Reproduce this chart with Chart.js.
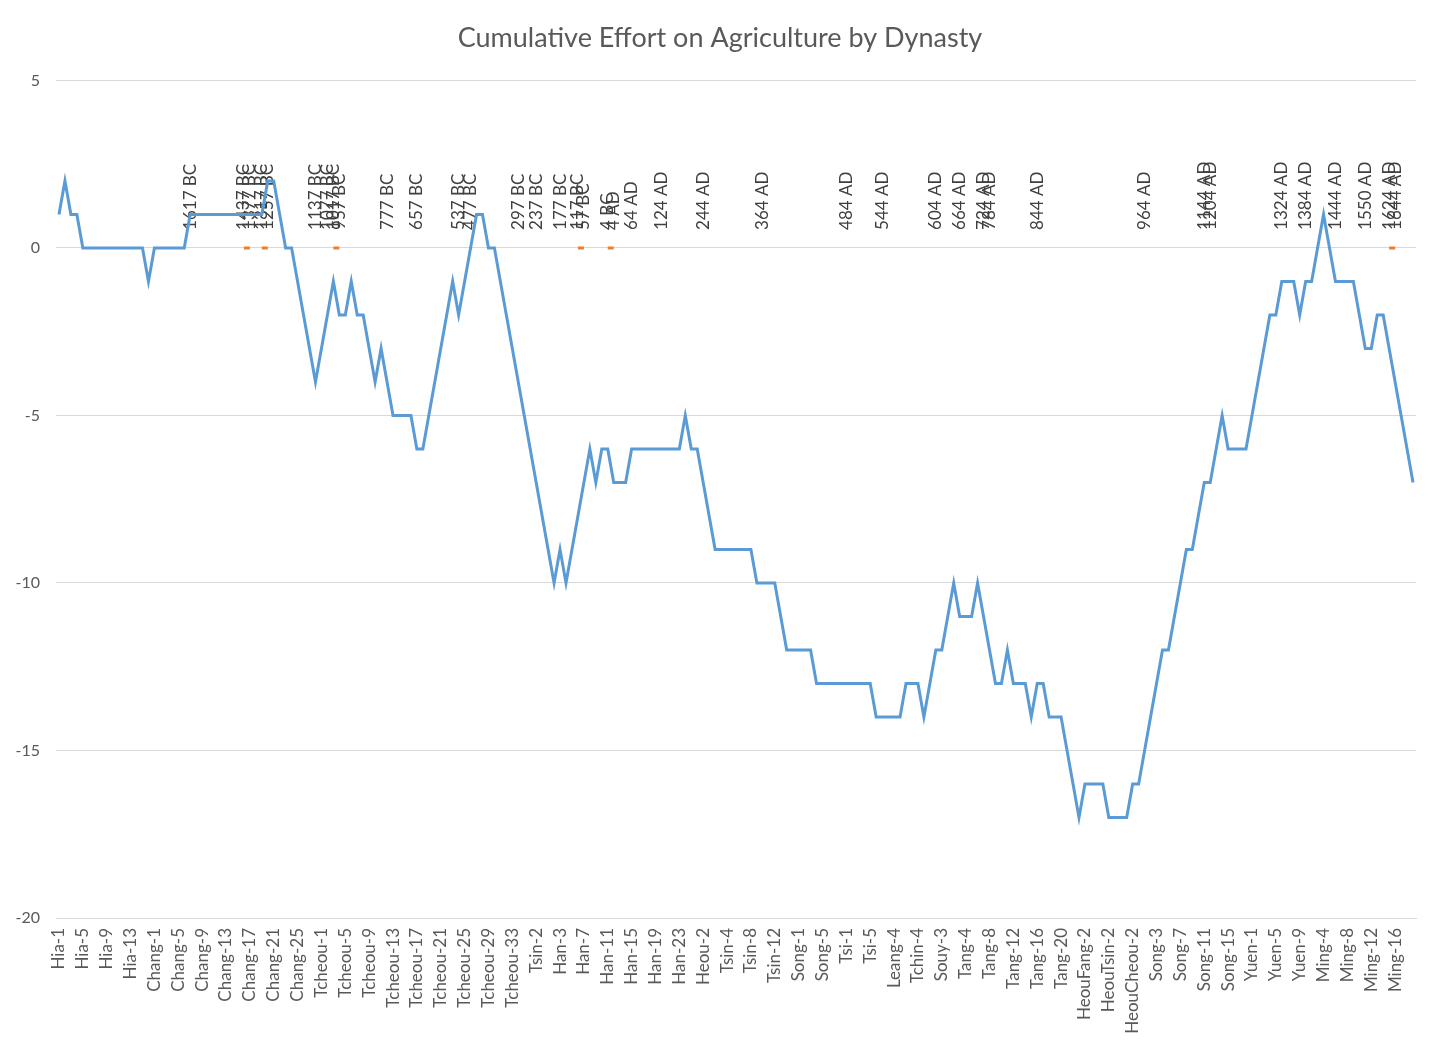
<!DOCTYPE html>
<html>
<head>
<meta charset="utf-8">
<title>Cumulative Effort on Agriculture by Dynasty</title>
<script src="https://cdn.jsdelivr.net/npm/chart.js@4.4.1/dist/chart.umd.min.js"></script>
<style>
    html, body { margin: 0; padding: 0; background: #ffffff; }
    #wrap { width: 1440px; height: 1053px; }
    canvas { display: block; }
</style>
</head>
<body>
<div id="wrap"><canvas id="chart" width="1440" height="1053"></canvas></div>
<script>
// Dynasties and how many reigns each one has (categories are "Name-n")
const dynasties = ['Hia', 'Chang', 'Tcheou', 'Tsin', 'Han', 'Heou', 'Tsin', 'Song', 'Tsi', 'Leang', 'Tchin', 'Souy', 'Tang',
    'HeouFang', 'HeouTang', 'HeouTsin', 'HeouHan', 'HeouCheou', 'Song', 'Yuen', 'Ming'];
const reignCounts = [16, 28, 35, 3, 25, 2, 15, 8, 5, 4, 5, 3, 22, 2, 2, 2, 2, 3, 18, 9, 19];

// Cumulative effort, one value per reign
const effort = [
    1, 2, 1, 1, 0, 0, 0, 0, 0, 0, 0, 0, 0, 0, 0, -1,
    0, 0, 0, 0, 0, 0, 1, 1, 1, 1, 1, 1, 1, 1, 1, 1, 1, 1, 1, 2, 2, 1, 0, 0, -1, -2, -3, -4,
    -3, -2, -1, -2, -2, -1, -2, -2, -3, -4, -3, -4, -5, -5, -5, -5, -6, -6, -5, -4, -3, -2, -1, -2, -1, 0, 1, 1, 0, 0, -1, -2, -3, -4, -5,
    -6, -7, -8,
    -9, -10, -9, -10, -9, -8, -7, -6, -7, -6, -6, -7, -7, -7, -6, -6, -6, -6, -6, -6, -6, -6, -6, -5, -6,
    -6, -7,
    -8, -9, -9, -9, -9, -9, -9, -9, -10, -10, -10, -10, -11, -12, -12,
    -12, -12, -12, -13, -13, -13, -13, -13,
    -13, -13, -13, -13, -13,
    -14, -14, -14, -14,
    -14, -13, -13, -13, -14,
    -13, -12, -12,
    -11, -10, -11, -11, -11, -10, -11, -12, -13, -13, -12, -13, -13, -13, -14, -13, -13, -14, -14, -14, -15, -16,
    -17, -16,
    -16, -16,
    -16, -17,
    -17, -17,
    -17, -16, -16,
    -15, -14, -13, -12, -12, -11, -10, -9, -9, -8, -7, -7, -6, -5, -6, -6, -6, -6,
    -5, -4, -3, -2, -2, -1, -1, -1, -2,
    -1, -1, 0, 1, 0, -1, -1, -1, -1, -2, -3, -3, -2, -2, -3, -4, -5, -6, -7
];

// Sexagenary cycle markers: reign index and the year the cycle starts
const cycleIndex = [22, 31, 32, 34, 35, 43, 45, 46, 47, 55, 60, 67, 69, 77, 80, 84, 87, 88, 92, 93, 96, 101, 108, 118,
    132, 138, 147, 151, 155, 156, 164, 182, 192, 193, 205, 209, 214, 219, 223, 224];
const cycleYear = ['1617 BC', '1437 BC', '1377 BC', '1317 BC', '1257 BC', '1137 BC', '1077 BC', '1017 BC', '957 BC',
    '777 BC', '657 BC', '537 BC', '477 BC', '297 BC', '237 BC', '177 BC', '117 BC', '57 BC', '4 BC', '4 AD', '64 AD',
    '124 AD', '244 AD', '364 AD', '484 AD', '544 AD', '604 AD', '664 AD', '724 AD', '784 AD', '844 AD', '964 AD',
    '1144 AD', '1204 AD', '1324 AD', '1384 AD', '1444 AD', '1550 AD', '1624 AD', '1644 AD'];
// reigns where the marker series has a point (drawn at 0)
const markerIndex = [31, 32, 34, 35, 46, 47, 87, 88, 92, 93, 223, 224];

const categories = [];
dynasties.forEach((name, d) => {
    for (let n = 1; n <= reignCounts[d]; n++) categories.push(name + '-' + n);
});

const markers = categories.map((c, i) => markerIndex.includes(i) ? 0 : null);

const textFont = 'Lato, "Open Sans", sans-serif';

// Draws the rotated cycle-year labels above the zero line
const cycleLabels = {
    id: 'cycleLabels',
    beforeDatasetsDraw(chart) {
        const ctx = chart.ctx;
        const xs = chart.scales.x;
        const y0 = chart.scales.y.getPixelForValue(0);
        ctx.save();
        ctx.fillStyle = '#404040';
        ctx.font = '17px ' + textFont;
        ctx.textAlign = 'left';
        ctx.textBaseline = 'middle';
        cycleIndex.forEach((idx, k) => {
            const x = xs.getPixelForValue(idx);
            ctx.save();
            ctx.translate(x, y0 - 18);
            ctx.rotate(-Math.PI / 2);
            ctx.fillText(cycleYear[k], 0, 0);
            ctx.restore();
        });
        ctx.restore();
    }
};

new Chart(document.getElementById('chart'), {
    type: 'line',
    data: {
        labels: categories,
        datasets: [{
            label: 'Cumulative effort',
            data: effort,
            borderColor: '#5b9bd5',
            borderWidth: 3,
            pointRadius: 0,
            tension: 0,
            order: 1
        }, {
            label: 'Cycle start',
            data: markers,
            borderColor: '#ed7d31',
            borderWidth: 3,
            pointRadius: 0,
            spanGaps: false,
            order: 2
        }]
    },
    options: {
        responsive: false,
        animation: false,
        layout: { padding: 0 },
        plugins: {
            legend: { display: false },
            tooltip: { enabled: false },
            title: {
                display: true,
                text: 'Cumulative Effort on Agriculture by Dynasty',
                color: '#595959',
                font: { family: textFont, size: 27, weight: 'normal' },
                padding: { top: 22, bottom: 26 }
            }
        },
        scales: {
            x: {
                offset: true,
                grid: { display: false, drawTicks: false },
                border: { display: true, color: '#d9d9d9' },
                ticks: {
                    autoSkip: false,
                    minRotation: 90,
                    maxRotation: 90,
                    padding: 10,
                    color: '#595959',
                    font: { family: textFont, size: 17 },
                    callback: function(value, index) {
                        return index % 4 === 0 ? this.getLabelForValue(value) : '';
                    }
                },
                afterFit(scale) {
                    scale.height = 135;
                    scale.paddingLeft = 0;
                    scale.paddingRight = 0;
                }
            },
            y: {
                min: -20,
                max: 5,
                grid: { color: '#d9d9d9', drawTicks: false },
                border: { display: false },
                ticks: {
                    stepSize: 5,
                    padding: 16,
                    color: '#595959',
                    font: { family: textFont, size: 16 }
                },
                afterFit(scale) { scale.width = 56; }
            },
            // empty right-hand margin so the plot ends where the reference does
            yRight: {
                position: 'right',
                grid: { display: false, drawTicks: false },
                border: { display: false },
                ticks: { display: false },
                afterFit(scale) { scale.width = 24; }
            }
        }
    },
    plugins: [cycleLabels]
});
</script>
</body>
</html>
